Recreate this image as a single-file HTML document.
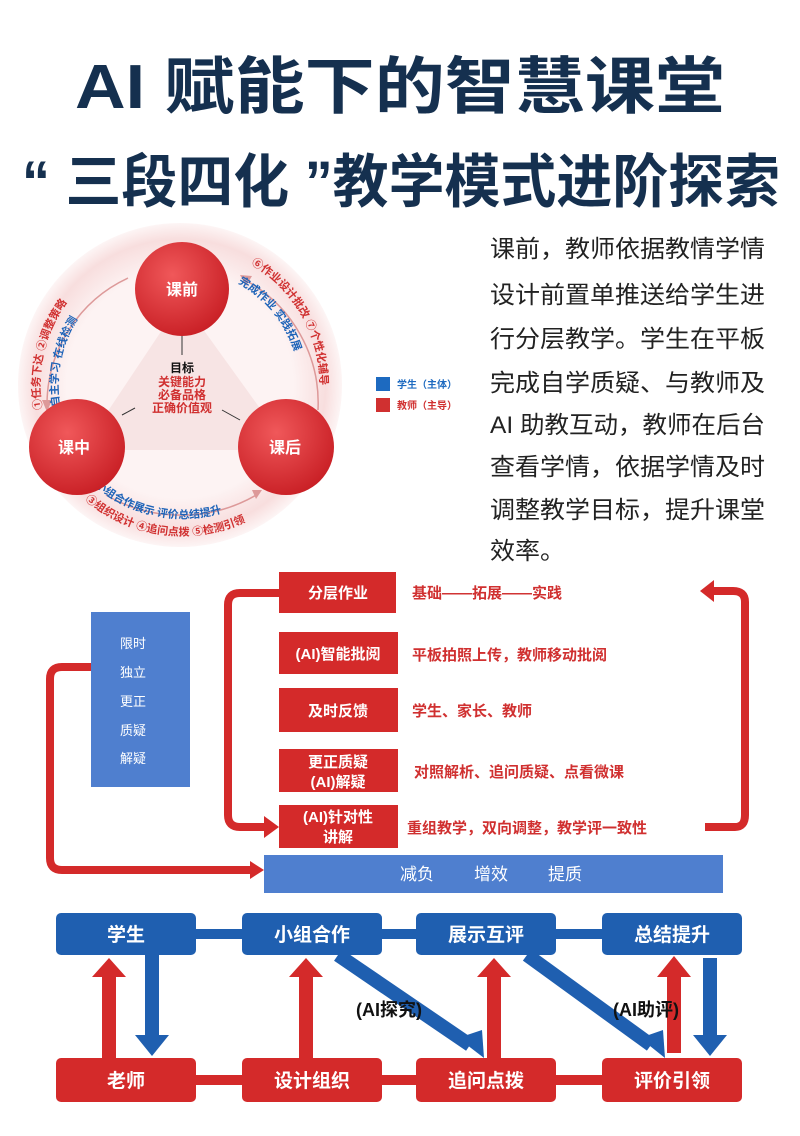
<!DOCTYPE html>
<html><head><meta charset="utf-8"><style>
html,body{margin:0;padding:0;background:#fff}
svg{display:block}
text{font-family:"Liberation Sans","Noto Sans CJK SC",sans-serif}
</style></head><body>
<svg width="800" height="1136" viewBox="0 0 800 1136" xmlns="http://www.w3.org/2000/svg">
<rect width="800" height="1136" fill="#fff"/>
<!-- Titles -->
<text x="75" y="108" font-size="62" font-weight="bold" fill="#15304f" textLength="650" lengthAdjust="spacingAndGlyphs">AI 赋能下的智慧课堂</text>
<text x="22" y="202" font-size="58" font-weight="bold" fill="#15304f" textLength="758" lengthAdjust="spacingAndGlyphs">“ 三段四化 ”教学模式进阶探索</text>

<!-- Circle diagram -->
<defs>
<radialGradient id="rg" cx="0.5" cy="0.5" r="0.5">
<stop offset="0.7" stop-color="#fdf3f3"/><stop offset="0.9" stop-color="#f8dede"/><stop offset="1" stop-color="#fdf5f5"/>
</radialGradient>
<radialGradient id="cg" cx="0.4" cy="0.35" r="0.7">
<stop offset="0" stop-color="#f0585a"/><stop offset="1" stop-color="#c81e24"/>
</radialGradient>
<path id="aL1" d="M 42.1 409.3 A 140 140 0 0 1 101.7 268.9"/>
<path id="aL2" d="M 59.9 406.2 A 122 122 0 0 1 111.8 284.1"/>
<path id="aR1" d="M 251 264 A 140 140 0 0 1 319.5 397"/>
<path id="aR2" d="M 238 283 A 120 120 0 0 1 300 395"/>
<path id="aB1" d="M 85 500 A 150 150 0 0 0 285 495"/>
<path id="aB2" d="M 95 486 A 135 135 0 0 0 275 482"/>
</defs>
<circle cx="180" cy="385" r="162" fill="url(#rg)"/>
<polygon points="182,300 82,450 290,450" fill="#f7e4e4"/>
<line x1="182" y1="336" x2="182" y2="355" stroke="#333" stroke-width="1"/>
<line x1="122" y1="415" x2="135" y2="408" stroke="#333" stroke-width="1"/>
<line x1="222" y1="410" x2="240" y2="420" stroke="#333" stroke-width="1"/>
<!-- arc arrows -->
<path d="M 128 278 A 140 140 0 0 0 47 403" fill="none" stroke="#d99" stroke-width="1.5"/>
<polygon points="42,400 52,400 47,412" fill="#d99"/>
<path d="M 318 410 A 140 140 0 0 0 245 280" fill="none" stroke="#d99" stroke-width="1.5"/>
<polygon points="240,275 252,276 246,286" fill="#d99"/>
<path d="M 106 495 A 150 150 0 0 0 258 494" fill="none" stroke="#d99" stroke-width="1.5"/>
<polygon points="262,490 252,490 256,499" fill="#d99"/>
<text font-size="11" font-weight="bold" fill="#d03030"><textPath href="#aL1">①任务下达 ②调整策略</textPath></text>
<text font-size="11" font-weight="bold" fill="#1d63b8"><textPath href="#aL2">自主学习 在线检测</textPath></text>
<text font-size="11" font-weight="bold" fill="#d03030"><textPath href="#aR1">⑥作业设计批改 ⑦个性化辅导</textPath></text>
<text font-size="11" font-weight="bold" fill="#1d63b8"><textPath href="#aR2">完成作业 实践拓展</textPath></text>
<text font-size="11" font-weight="bold" fill="#d03030"><textPath href="#aB1">③组织设计 ④追问点拨 ⑤检测引领</textPath></text>
<text font-size="11" font-weight="bold" fill="#1d63b8"><textPath href="#aB2">小组合作展示 评价总结提升</textPath></text>
<circle cx="182" cy="289" r="47" fill="url(#cg)"/>
<circle cx="77" cy="447" r="48" fill="url(#cg)"/>
<circle cx="286" cy="447" r="48" fill="url(#cg)"/>
<text x="182" y="295" font-size="16" font-weight="bold" fill="#fff" text-anchor="middle">课前</text>
<text x="74" y="453" font-size="16" font-weight="bold" fill="#fff" text-anchor="middle">课中</text>
<text x="285" y="453" font-size="16" font-weight="bold" fill="#fff" text-anchor="middle">课后</text>
<text x="182" y="372" font-size="12" font-weight="bold" fill="#111" text-anchor="middle">目标</text>
<text x="182" y="386" font-size="12" font-weight="bold" fill="#d03030" text-anchor="middle">关键能力</text>
<text x="182" y="399" font-size="12" font-weight="bold" fill="#d03030" text-anchor="middle">必备品格</text>
<text x="182" y="412" font-size="12" font-weight="bold" fill="#d03030" text-anchor="middle">正确价值观</text>
<!-- legend -->
<rect x="376" y="377" width="14" height="14" fill="#1d6ac0"/>
<text x="397" y="388" font-size="10" font-weight="bold" fill="#1d6ac0">学生（主体）</text>
<rect x="376" y="398" width="14" height="14" fill="#d03030"/>
<text x="397" y="409" font-size="10" font-weight="bold" fill="#d03030">教师（主导）</text>

<!-- paragraph -->
<g font-size="24" fill="#222">
<text x="490" y="257" textLength="275" lengthAdjust="spacingAndGlyphs">课前，教师依据教情学情</text>
<text x="490" y="303" textLength="275" lengthAdjust="spacingAndGlyphs">设计前置单推送给学生进</text>
<text x="490" y="347" textLength="275" lengthAdjust="spacingAndGlyphs">行分层教学。学生在平板</text>
<text x="490" y="391" textLength="275" lengthAdjust="spacingAndGlyphs">完成自学质疑、与教师及</text>
<text x="490" y="433" textLength="275" lengthAdjust="spacingAndGlyphs">AI 助教互动，教师在后台</text>
<text x="490" y="475" textLength="275" lengthAdjust="spacingAndGlyphs">查看学情，依据学情及时</text>
<text x="490" y="518" textLength="275" lengthAdjust="spacingAndGlyphs">调整教学目标，提升课堂</text>
<text x="490" y="559" textLength="75" lengthAdjust="spacingAndGlyphs">效率。</text>
</g>

<!-- Middle section -->
<rect x="91" y="612" width="99" height="175" fill="#4f7fcf"/>
<g font-size="13" fill="#fff">
<text x="120" y="648">限时</text><text x="120" y="677">独立</text><text x="120" y="706">更正</text><text x="120" y="735">质疑</text><text x="120" y="763">解疑</text>
</g>
<rect x="264" y="855" width="459" height="38" fill="#4f7fcf"/>
<g font-size="17" fill="#fff"><text x="400" y="880">减负</text><text x="474" y="880">增效</text><text x="548" y="880">提质</text></g>
<!-- red loop arrows -->
<path d="M 91 667 L 62 667 Q 50 667 50 679 L 50 858 Q 50 870 62 870 L 252 870" fill="none" stroke="#d42a2a" stroke-width="8"/>
<polygon points="250,861 264,870 250,879" fill="#d42a2a"/>
<path d="M 279 593 L 240 593 Q 228 593 228 605 L 228 815 Q 228 827 240 827 L 265 827" fill="none" stroke="#d42a2a" stroke-width="8"/>
<polygon points="264,816 279,827 264,838" fill="#d42a2a"/>
<path d="M 705 827 L 735 827 Q 745 827 745 815 L 745 602 Q 745 591 733 591 L 712 591" fill="none" stroke="#d42a2a" stroke-width="8"/>
<polygon points="714,580 700,591 714,602" fill="#d42a2a"/>
<!-- boxes -->
<g fill="#d42a2a">
<rect x="279" y="572" width="117" height="41"/>
<rect x="279" y="632" width="119" height="42"/>
<rect x="279" y="688" width="119" height="44"/>
<rect x="279" y="749" width="119" height="43"/>
<rect x="279" y="805" width="119" height="43"/>
</g>
<g font-size="15" font-weight="bold" fill="#fff" text-anchor="middle">
<text x="338" y="598">分层作业</text>
<text x="338" y="659">(AI)智能批阅</text>
<text x="338" y="716">及时反馈</text>
<text x="338" y="767">更正质疑</text>
<text x="338" y="787">(AI)解疑</text>
<text x="338" y="822">(AI)针对性</text>
<text x="338" y="842">讲解</text>
</g>
<g font-size="15" font-weight="bold" fill="#d03030">
<text x="412" y="598">基础——拓展——实践</text>
<text x="412" y="660">平板拍照上传，教师移动批阅</text>
<text x="412" y="716">学生、家长、教师</text>
<text x="414" y="777">对照解析、追问质疑、点看微课</text>
<text x="407" y="833">重组教学，双向调整，教学评一致性</text>
</g>

<!-- Bottom section -->
<rect x="196" y="929" width="406" height="10" fill="#1f5fb0"/>
<rect x="196" y="1075" width="406" height="10" fill="#d42a2a"/>
<!-- arrows -->
<g fill="#d42a2a">
<rect x="102" y="975" width="14" height="83"/><polygon points="92,977 126,977 109,958"/>
<rect x="299" y="975" width="14" height="83"/><polygon points="289,977 323,977 306,958"/>
<rect x="487" y="975" width="14" height="83"/><polygon points="477,977 511,977 494,958"/>
<rect x="667" y="975" width="14" height="78"/><polygon points="657,977 691,977 674,956"/>
</g>
<g fill="#1f5fb0">
<rect x="145" y="955" width="14" height="82"/><polygon points="135,1035 169,1035 152,1056"/>
<rect x="703" y="958" width="14" height="79"/><polygon points="693,1035 727,1035 710,1056"/>
</g>
<line x1="338" y1="955" x2="470" y2="1045" stroke="#1f5fb0" stroke-width="14"/>
<polygon points="458,1038 484,1058 482,1030" fill="#1f5fb0"/>
<line x1="527" y1="955" x2="651" y2="1045" stroke="#1f5fb0" stroke-width="14"/>
<polygon points="640,1038 665,1058 663,1030" fill="#1f5fb0"/>
<g font-size="18" font-weight="bold" fill="#111">
<text x="356" y="1016">(AI探究)</text>
<text x="613" y="1016">(AI助评)</text>
</g>
<g fill="#1f5fb0">
<rect x="56" y="913" width="140" height="42" rx="5"/>
<rect x="242" y="913" width="140" height="42" rx="5"/>
<rect x="416" y="913" width="140" height="42" rx="5"/>
<rect x="602" y="913" width="140" height="42" rx="5"/>
</g>
<g fill="#d42a2a">
<rect x="56" y="1058" width="140" height="44" rx="5"/>
<rect x="242" y="1058" width="140" height="44" rx="5"/>
<rect x="416" y="1058" width="140" height="44" rx="5"/>
<rect x="602" y="1058" width="140" height="44" rx="5"/>
</g>
<g font-size="19" font-weight="bold" fill="#fff" text-anchor="middle">
<text x="126" y="941">学生</text><text x="312" y="941">小组合作</text><text x="486" y="941">展示互评</text><text x="672" y="941">总结提升</text>
<text x="126" y="1087">老师</text><text x="312" y="1087">设计组织</text><text x="486" y="1087">追问点拨</text><text x="672" y="1087">评价引领</text>
</g>
</svg>
</body></html>
